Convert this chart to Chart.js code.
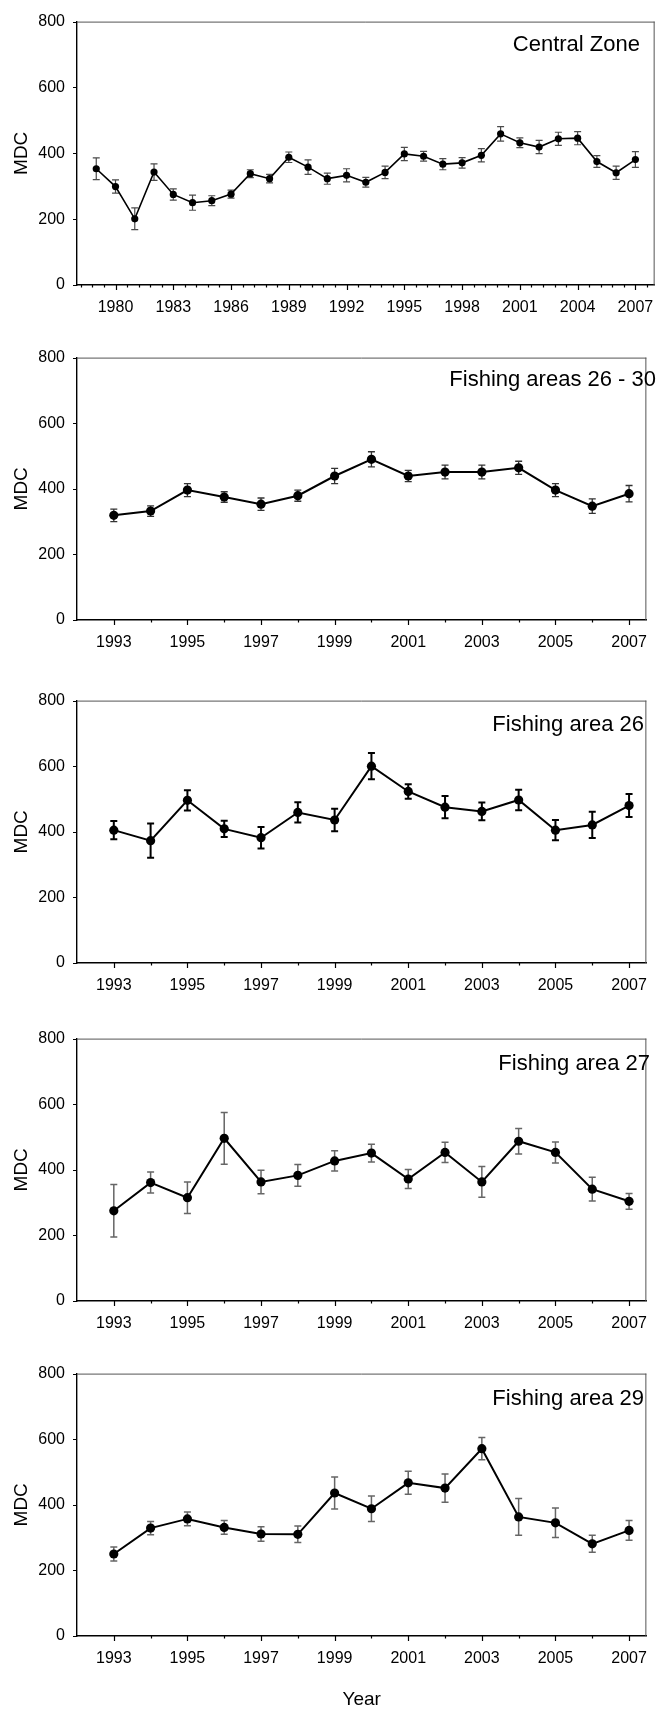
<!DOCTYPE html>
<html>
<head>
<meta charset="utf-8">
<script src="https://cdn.jsdelivr.net/npm/chart.js@4.4.1/dist/chart.umd.min.js"></script>
<style>
  html, body { margin: 0; padding: 0; background: #fff; }
  body { width: 660px; height: 1713px; position: relative; overflow: hidden; }
  canvas { position: absolute; left: 0; }
</style>
</head>
<body>
<canvas id="p1"></canvas>
<canvas id="p2"></canvas>
<canvas id="p3"></canvas>
<canvas id="p4"></canvas>
<canvas id="p5"></canvas>
<script>
// MDC per year with standard errors
const yearsCentral = [1979, 1980, 1981, 1982, 1983, 1984, 1985, 1986, 1987, 1988,
                      1989, 1990, 1991, 1992, 1993, 1994, 1995, 1996, 1997, 1998,
                      1999, 2000, 2001, 2002, 2003, 2004, 2005, 2006, 2007];
const mdcCentral = [353, 299, 201, 343, 275, 250, 256, 276, 338, 323,
                    388, 358, 323, 333, 312, 342, 398, 391, 367, 371,
                    394, 459, 432, 419, 444, 446, 375, 341, 381];
const seCentral = [33, 20, 33, 25, 17, 23, 15, 12, 12, 13,
                   16, 22, 17, 20, 15, 19, 20, 15, 17, 16,
                   20, 22, 15, 20, 20, 20, 18, 20, 24];

const yearsAreas = [1993, 1994, 1995, 1996, 1997, 1998, 1999, 2000,
                    2001, 2002, 2003, 2004, 2005, 2006, 2007];
const mdcAreas26to30 = [319, 332, 396, 375, 353, 379, 439, 490, 439, 451, 451, 464, 396, 347, 385];
const seAreas26to30  = [19, 16, 20, 16, 19, 17, 23, 23, 17, 21, 21, 20, 20, 22, 25];
const mdcArea26 = [405, 373, 496, 409, 382, 459, 436, 600, 523, 475, 462, 497, 405, 421, 480];
const seArea26  = [28, 52, 31, 25, 33, 31, 34, 40, 22, 34, 27, 31, 31, 40, 35];
const mdcArea27 = [275, 361, 315, 496, 363, 383, 427, 451, 372, 453, 363, 487, 453, 341, 304];
const seArea27  = [80, 32, 48, 79, 36, 33, 31, 27, 29, 31, 47, 39, 32, 36, 24];
const mdcArea29 = [250, 329, 357, 331, 311, 310, 436, 388, 467, 451, 571, 363, 345, 281, 322];
const seArea29  = [21, 20, 21, 21, 22, 25, 49, 39, 35, 43, 34, 56, 45, 26, 30];

// tick labels
const labelYearsCentral = [1980, 1983, 1986, 1989, 1992, 1995, 1998, 2001, 2004, 2007];
const labelYearsAreas = [1993, 1995, 1997, 1999, 2001, 2003, 2005, 2007];
const mdcTicks = [0, 200, 400, 600, 800];

const FONT = "'Liberation Sans', Arial, sans-serif";

// tick positions along the year axis (minor + major)
function centralTickValues() {
    const out = [];
    for (let k = 0; k <= 49; k++) out.push(Math.round((1978.2 + 0.6 * k) * 10) / 10);
    return out;
}
function areaTickValues() {
    const out = [];
    for (let y = 1993; y <= 2007; y++) out.push(y);
    return out;
}

const panels = [
    { id: 'p1', top: 0, height: 325, plotH: 273, title: 'Central Zone', titleX: 640, titleY: 29,
      years: yearsCentral, mdc: mdcCentral, se: seCentral, labels: labelYearsCentral,
      ticks: centralTickValues, xMin: 1978, xMax: 2008,
      radius: 3.6, lineWidth: 1.6, errColor: '#4a4a4a', errWidth: 1.2, cap: 3.5 },
    { id: 'p2', top: 336, height: 324, plotH: 272, title: 'Fishing areas 26 - 30', titleX: 656, titleY: 28,
      years: yearsAreas, mdc: mdcAreas26to30, se: seAreas26to30, labels: labelYearsAreas,
      ticks: areaTickValues, xMin: 1992, xMax: 2007.47,
      radius: 4.6, lineWidth: 2, errColor: '#333', errWidth: 1.3, cap: 3.5 },
    { id: 'p3', top: 679, height: 324, plotH: 272, title: 'Fishing area 26', titleX: 644, titleY: 30.5,
      years: yearsAreas, mdc: mdcArea26, se: seArea26, labels: labelYearsAreas,
      ticks: areaTickValues, xMin: 1992, xMax: 2007.47,
      radius: 4.6, lineWidth: 2, errColor: '#000', errWidth: 2, cap: 3.5 },
    { id: 'p4', top: 1017, height: 324, plotH: 272, title: 'Fishing area 27', titleX: 650, titleY: 31,
      years: yearsAreas, mdc: mdcArea27, se: seArea27, labels: labelYearsAreas,
      ticks: areaTickValues, xMin: 1992, xMax: 2007.47,
      radius: 4.6, lineWidth: 2, errColor: '#666', errWidth: 1.5, cap: 3.5 },
    { id: 'p5', top: 1352, height: 361, plotH: 272, title: 'Fishing area 29', titleX: 644, titleY: 31,
      years: yearsAreas, mdc: mdcArea29, se: seArea29, labels: labelYearsAreas,
      ticks: areaTickValues, xMin: 1992, xMax: 2007.47,
      radius: 4.6, lineWidth: 2, errColor: '#666', errWidth: 1.5, cap: 3.5, xTitle: 'Year' }
];

function makePanel(p) {
    const canvas = document.getElementById(p.id);
    canvas.width = 660;
    canvas.height = p.height;
    canvas.style.top = p.top + 'px';
    const xHeight = p.height - 12 - p.plotH;

    // vertical error bars, drawn under the line and markers
    const errorBars = {
        id: 'errorBars',
        beforeDatasetsDraw(chart) {
            const { ctx, scales: { x, y } } = chart;
            ctx.save();
            ctx.strokeStyle = p.errColor;
            ctx.lineWidth = p.errWidth;
            p.years.forEach((yr, i) => {
                const px = x.getPixelForValue(yr);
                const hi = y.getPixelForValue(p.mdc[i] + p.se[i]);
                const lo = y.getPixelForValue(p.mdc[i] - p.se[i]);
                ctx.beginPath();
                ctx.moveTo(px, hi); ctx.lineTo(px, lo);
                ctx.moveTo(px - p.cap, hi); ctx.lineTo(px + p.cap, hi);
                ctx.moveTo(px - p.cap, lo); ctx.lineTo(px + p.cap, lo);
                ctx.stroke();
            });
            ctx.restore();
        }
    };

    // box edges, tick marks and the panel heading
    const frame = {
        id: 'frame',
        afterDraw(chart) {
            const { ctx, chartArea: a, scales: { x, y } } = chart;
            ctx.save();
            ctx.strokeStyle = '#555';
            ctx.lineWidth = 1;
            ctx.beginPath();
            ctx.moveTo(a.left, a.top + 0.5); ctx.lineTo(a.right, a.top + 0.5);
            ctx.moveTo(a.right - 0.5, a.top); ctx.lineTo(a.right - 0.5, a.bottom);
            ctx.stroke();

            ctx.strokeStyle = '#000';
            ctx.lineWidth = 1.2;
            ctx.beginPath();
            x.ticks.forEach(t => {
                const px = Math.round(x.getPixelForValue(t.value)) + 0.5;
                const len = t.label ? 5 : 2.5;
                ctx.moveTo(px, a.bottom); ctx.lineTo(px, a.bottom + len);
            });
            y.ticks.forEach(t => {
                const py = Math.round(y.getPixelForValue(t.value)) + 0.5;
                ctx.moveTo(a.left, py); ctx.lineTo(a.left - 4, py);
            });
            ctx.stroke();

            ctx.fillStyle = '#000';
            ctx.font = '22px ' + FONT;
            ctx.textAlign = 'right';
            ctx.textBaseline = 'alphabetic';
            ctx.fillText(p.title, p.titleX, a.top + p.titleY);
            ctx.restore();
        }
    };

    const tickValues = p.ticks();

    new Chart(canvas, {
        type: 'line',
        data: {
            datasets: [{
                data: p.years.map((yr, i) => ({ x: yr, y: p.mdc[i] })),
                borderColor: '#000',
                borderWidth: p.lineWidth,
                backgroundColor: '#000',
                pointBackgroundColor: '#000',
                pointBorderColor: '#000',
                pointRadius: p.radius,
                pointBorderWidth: 0,
                tension: 0
            }]
        },
        options: {
            responsive: false,
            animation: false,
            devicePixelRatio: 1,
            layout: { padding: { top: 12, right: 1, left: 0, bottom: 0 } },
            plugins: { legend: { display: false }, tooltip: { enabled: false } },
            scales: {
                x: {
                    type: 'linear',
                    min: p.xMin,
                    max: p.xMax,
                    afterBuildTicks: (scale) => { scale.ticks = tickValues.map(v => ({ value: v })); },
                    afterFit: (scale) => { scale.height = xHeight; },
                    grid: { display: false, drawTicks: false },
                    border: { display: true, color: '#000', width: 1.6 },
                    ticks: {
                        autoSkip: false,
                        maxRotation: 0,
                        minRotation: 0,
                        padding: 13,
                        color: '#000',
                        font: { family: FONT, size: 16 },
                        callback: (v) => p.labels.includes(v) ? String(v) : ''
                    },
                    title: {
                        display: !!p.xTitle,
                        text: p.xTitle || '',
                        color: '#000',
                        font: { family: FONT, size: 19 },
                        padding: { top: 0, bottom: 2 }
                    }
                },
                y: {
                    min: 0,
                    max: 800,
                    afterBuildTicks: (scale) => { scale.ticks = mdcTicks.map(v => ({ value: v })); },
                    afterFit: (scale) => { scale.width = 77; },
                    grid: { display: false, drawTicks: false },
                    border: { display: true, color: '#000', width: 1.4 },
                    ticks: {
                        padding: 12,
                        color: '#000',
                        font: { family: FONT, size: 16 }
                    },
                    title: {
                        display: true,
                        text: 'MDC',
                        color: '#000',
                        font: { family: FONT, size: 19 },
                        padding: { top: 10, bottom: 0 }
                    }
                }
            }
        },
        plugins: [errorBars, frame]
    });
}

panels.forEach(makePanel);
</script>
</body>
</html>
